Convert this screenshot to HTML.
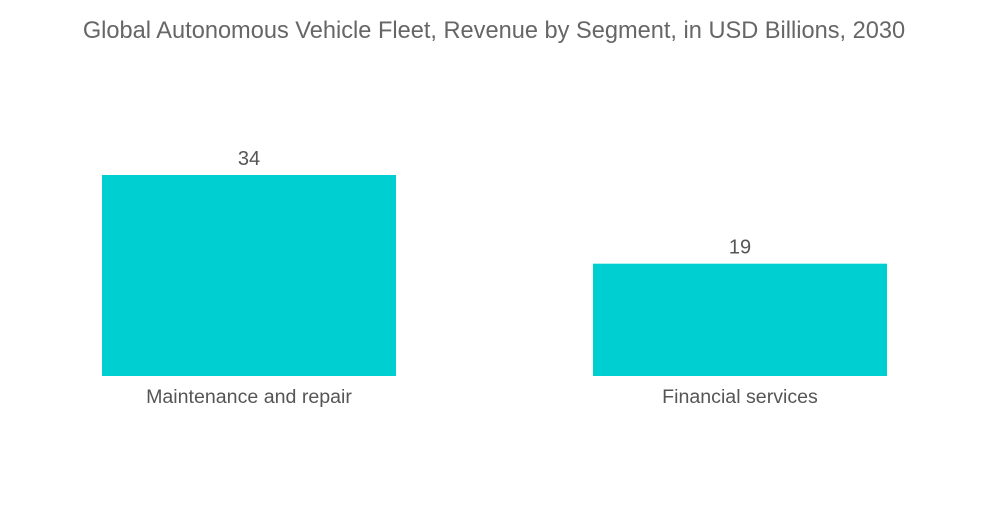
<!DOCTYPE html>
<html><head><meta charset="utf-8"><style>
body{margin:0;background:#fff;width:1000px;height:504px;overflow:hidden;font-family:"Liberation Sans",sans-serif}
</style></head><body>
<svg width="1000" height="504">
<text x="494" y="38" text-anchor="middle" font-size="23.6" fill="#666">Global Autonomous Vehicle Fleet, Revenue by Segment, in USD Billions, 2030</text>
<g id="bars"></g>
</svg>
<script>
const categories=["Maintenance and repair","Financial services"];
const values=[34,19];
const baseY=376, pxPerUnit=201/34;
const y=v=>baseY-v*pxPerUnit;
const barW=294;
const g=document.getElementById('bars');
const ns="http://www.w3.org/2000/svg";
categories.forEach((c,i)=>{
  const x=102+i*491;
  const r=document.createElementNS(ns,'rect');
  r.setAttribute('x',x);r.setAttribute('y',y(values[i]));r.setAttribute('width',barW);r.setAttribute('height',baseY-y(values[i]));r.setAttribute('fill','#00cfd1');
  
  
  g.appendChild(r);
  const t=document.createElementNS(ns,'text');
  t.setAttribute('x',x+barW/2);t.setAttribute('y',y(values[i])-10);t.setAttribute('text-anchor','middle');t.setAttribute('font-size','20');t.setAttribute('fill','#555');
  t.textContent=values[i];
  
  
  g.appendChild(t);
  const l=document.createElementNS(ns,'text');
  l.setAttribute('x',x+barW/2);l.setAttribute('y',403);l.setAttribute('text-anchor','middle');l.setAttribute('font-size','19.6');l.setAttribute('fill','#555');
  l.textContent=c;
  
  
  g.appendChild(l);
});
</script>
</body></html>
